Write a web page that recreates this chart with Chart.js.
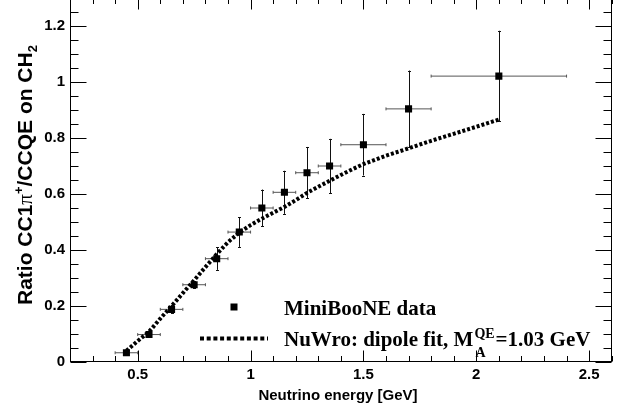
<!DOCTYPE html>
<html>
<head>
<meta charset="utf-8">
<script src="https://cdn.jsdelivr.net/npm/chart.js@4"></script>
<style>
  html, body { margin: 0; padding: 0; background: #fff; overflow: hidden; }
  #wrap { position: absolute; left: 0; top: -2px; width: 641px; height: 411px; }
</style>
</head>
<body>
<div id="wrap"><canvas id="c" width="641" height="411"></canvas></div>
<script>
// MiniBooNE data points
const energy    = [0.45, 0.55, 0.65, 0.75, 0.85, 0.95, 1.05, 1.15, 1.25, 1.35, 1.5, 1.7, 2.1]
const energyErr = [0.05, 0.05, 0.05, 0.05, 0.05, 0.05, 0.05, 0.05, 0.05, 0.05, 0.1, 0.1, 0.3]
const ratio     = [0.033, 0.098, 0.188, 0.276, 0.369, 0.464, 0.55, 0.606, 0.676, 0.70, 0.776, 0.904, 1.021]
const ratioErr  = [0.006, 0.008, 0.014, 0.012, 0.04, 0.053, 0.066, 0.077, 0.092, 0.097, 0.11, 0.137, 0.162]

// NuWro dipole fit curve
const curveEnergy = [0.45, 0.5, 0.55, 0.6, 0.65, 0.7, 0.75, 0.8, 0.85, 0.9, 0.95, 1.0, 1.05, 1.1, 1.15, 1.2, 1.25, 1.3, 1.35, 1.4, 1.45, 1.5, 1.6, 1.7, 1.8, 1.9, 2.0, 2.1]
const curveRatio  = [0.04, 0.075, 0.108, 0.155, 0.2, 0.246, 0.292, 0.339, 0.385, 0.428, 0.462, 0.489, 0.512, 0.533, 0.554, 0.578, 0.604, 0.626, 0.647, 0.668, 0.688, 0.707, 0.737, 0.763, 0.79, 0.815, 0.84, 0.866]

const xTicks = [0.5, 1, 1.5, 2, 2.5]
const xTickLabels = ["0.5", "1", "1.5", "2", "2.5"]
const yTicks = [0, 0.2, 0.4, 0.6, 0.8, 1, 1.2]
const yTickLabels = ["0", "0.2", "0.4", "0.6", "0.8", "1", "1.2"]

const SANS = "'Liberation Sans', Arial, Helvetica, sans-serif"
const SERIF = "'Liberation Serif', 'Times New Roman', serif"

const errorBars = {
  id: "errorBars",
  beforeDatasetsDraw(chart) {
    const { ctx, scales: { x, y } } = chart
    ctx.save()
    ctx.lineWidth = 1
    energy.forEach((e, i) => {
      const px = x.getPixelForValue(e), py = y.getPixelForValue(ratio[i])
      const x0 = x.getPixelForValue(e - energyErr[i]), x1 = x.getPixelForValue(e + energyErr[i])
      const y0 = y.getPixelForValue(ratio[i] - ratioErr[i]), y1 = y.getPixelForValue(ratio[i] + ratioErr[i])
      ctx.strokeStyle = "#555"
      ctx.beginPath()
      ctx.moveTo(x0, py); ctx.lineTo(x1, py)
      ctx.moveTo(x0, py - 1.5); ctx.lineTo(x0, py + 1.5)
      ctx.moveTo(x1, py - 1.5); ctx.lineTo(x1, py + 1.5)
      ctx.stroke()
      const vx = Math.round(px) + 0.5
      ctx.strokeStyle = "#111"
      ctx.beginPath()
      ctx.moveTo(vx, y0); ctx.lineTo(vx, y1)
      ctx.moveTo(vx - 1.5, Math.round(y0) + 0.5); ctx.lineTo(vx + 1.5, Math.round(y0) + 0.5)
      ctx.moveTo(vx - 1.5, Math.round(y1) + 0.5); ctx.lineTo(vx + 1.5, Math.round(y1) + 0.5)
      ctx.stroke()
    })
    ctx.restore()
  }
}

const frame = {
  id: "frame",
  afterDraw(chart) {
    const { ctx, chartArea: a, scales: { x, y } } = chart
    const L = Math.round(a.left) + 0.5, R = Math.round(a.right) - 0.5
    const T = Math.round(a.top) + 0.5, B = Math.round(a.bottom) - 0.5
    ctx.save()
    ctx.strokeStyle = "#000"
    ctx.lineWidth = 1
    ctx.strokeRect(L, T, R - L, B - T)
    ctx.beginPath()
    for (let k = 0; k <= 26; k++) {
      const v = +(0.05 * k).toFixed(2)
      const major = k % 4 === 0
      const len = major ? 16 : 8
      const py = Math.round(y.getPixelForValue(v)) + 0.5
      ctx.moveTo(L, py); ctx.lineTo(L + len, py)
      ctx.moveTo(R, py); ctx.lineTo(R - len, py)
    }
    for (let k = 2; k <= 26; k++) {
      const v = +(0.1 * k).toFixed(1)
      const major = k % 5 === 0
      const len = major ? 11 : 5.5
      const px = Math.round(x.getPixelForValue(v)) + 0.5
      ctx.moveTo(px, B); ctx.lineTo(px, B - len)
      ctx.moveTo(px, T); ctx.lineTo(px, T + len)
    }
    ctx.stroke()

    // y title
    ctx.save()
    ctx.translate(31.5, 307)
    ctx.rotate(-Math.PI / 2)
    ctx.fillStyle = "#000"
    ctx.textBaseline = "alphabetic"
    let cx = 0
    const piece = (t, font, dy) => { ctx.font = font; ctx.fillText(t, cx, dy); cx += ctx.measureText(t).width }
    piece("Ratio CC1", "bold 21px " + SANS, 0)
    piece("\u03c0", "21px " + SERIF, 0)
    piece("+", "bold 13px " + SANS, -9)
    piece("/CCQE on CH", "bold 21px " + SANS, 0)
    piece("2", "bold 13px " + SANS, 5)
    ctx.restore()

    // x title
    ctx.font = "bold 15px " + SANS
    ctx.textAlign = "center"
    ctx.textBaseline = "alphabetic"
    ctx.fillStyle = "#000"
    ctx.fillText("Neutrino energy [GeV]", 338, 402)

    // legend
    ctx.textAlign = "left"
    ctx.fillRect(234 - 3.5, 309 - 3.5, 7, 7)
    ctx.save()
    ctx.lineWidth = 4
    ctx.setLineDash([4, 2.7])
    ctx.beginPath()
    ctx.moveTo(200, 340.5); ctx.lineTo(268, 340.5)
    ctx.stroke()
    ctx.restore()
    ctx.font = "bold 21px " + SERIF
    ctx.fillText("MiniBooNE data", 284, 317)
    const base = 347.5
    let lx = 284
    const main = "NuWro: dipole fit, M"
    ctx.fillText(main, lx, base)
    lx += ctx.measureText(main).width + 1
    ctx.font = "bold 14px " + SERIF
    ctx.fillText("QE", lx, base - 8)
    const wq = ctx.measureText("QE").width
    ctx.fillText("A", lx + 1, base + 11)
    lx += wq + 1
    ctx.font = "bold 21px " + SERIF
    ctx.fillText("=1.03 GeV", lx, base)
    ctx.restore()
  }
}

new Chart(document.getElementById("c"), {
  type: "scatter",
  data: {
    datasets: [
      {
        label: "MiniBooNE data",
        data: energy.map((e, i) => ({ x: e, y: ratio[i] })),
        pointStyle: "rect",
        pointRadius: 5,
        backgroundColor: "#000",
        borderColor: "#000",
        borderWidth: 0,
        order: 0
      },
      {
        label: "NuWro: dipole fit",
        type: "line",
        data: curveEnergy.map((e, i) => ({ x: e, y: curveRatio[i] })),
        borderColor: "#000",
        borderWidth: 4,
        borderDash: [3, 2],
        borderCapStyle: "butt",
        pointRadius: 0,
        fill: false,
        tension: 0,
        order: 1
      }
    ]
  },
  options: {
    responsive: false,
    animation: false,
    devicePixelRatio: 1,
    layout: { padding: { left: 0, right: 29.3, top: 0, bottom: 0 }, autoPadding: false },
    plugins: { legend: { display: false }, tooltip: { enabled: false } },
    scales: {
      x: {
        type: "linear",
        min: 0.2,
        max: 2.6,
        afterBuildTicks: s => { s.ticks = xTicks.map(v => ({ value: v })) },
        afterFit: s => { s.height = 47; s.paddingLeft = 0; s.paddingRight = 0 },
        grid: { display: false, drawTicks: false },
        border: { display: false },
        ticks: {
          callback: (v, i) => xTickLabels[i],
          font: { family: SANS, size: 15, weight: "bold" },
          color: "#000",
          padding: 4,
          maxRotation: 0,
          autoSkip: false
        }
      },
      y: {
        type: "linear",
        min: 0,
        max: 1.3,
        afterBuildTicks: s => { s.ticks = yTicks.map(v => ({ value: v })) },
        afterFit: s => { s.width = 70; s.paddingTop = 0; s.paddingBottom = 0 },
        grid: { display: false, drawTicks: false },
        border: { display: false },
        ticks: {
          callback: (v, i) => yTickLabels[i],
          font: { family: SANS, size: 15, weight: "bold" },
          color: "#000",
          padding: 5,
          autoSkip: false
        }
      }
    }
  },
  plugins: [errorBars, frame]
})
</script>
</body>
</html>
